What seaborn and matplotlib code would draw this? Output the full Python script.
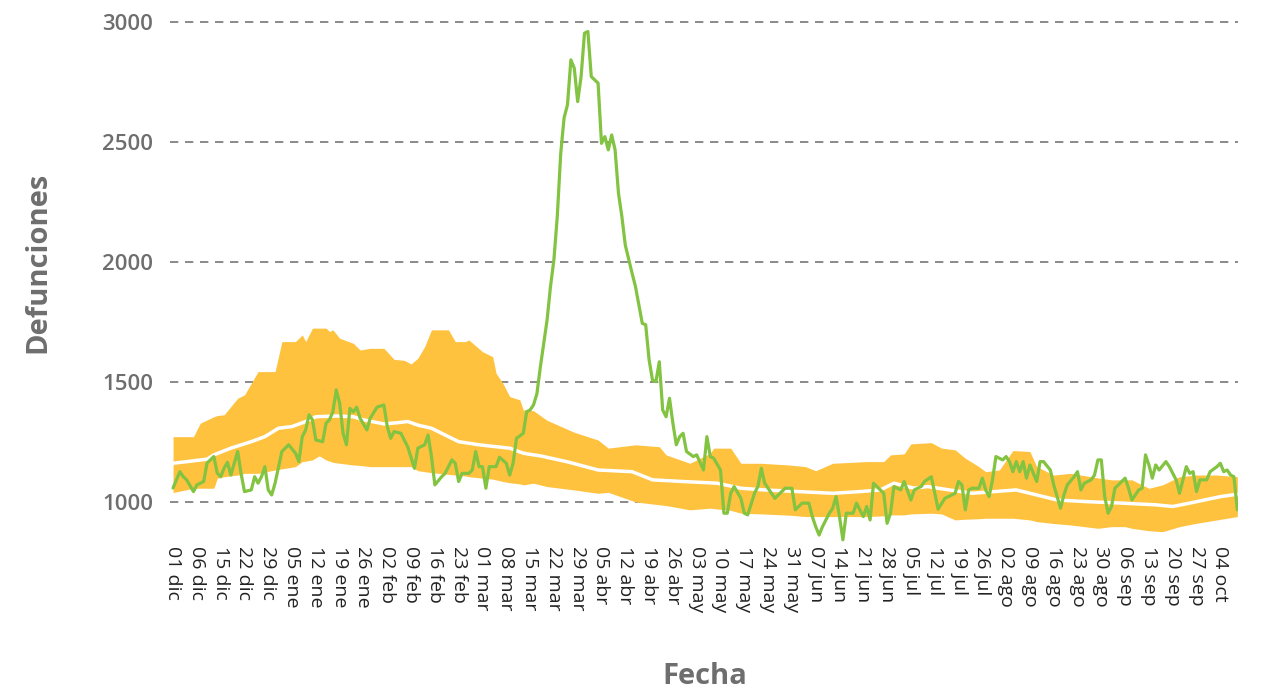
import numpy as np
import pandas as pd
import matplotlib
matplotlib.use("Agg")
import matplotlib.pyplot as plt
import seaborn as sns

# ---------------- data ----------------
start = pd.Timestamp("2019-12-01")

tick_labels = ["01 dic", "06 dic", "15 dic", "22 dic", "29 dic",
               "05 ene", "12 ene", "19 ene", "26 ene",
               "02 feb", "09 feb", "16 feb", "23 feb",
               "01 mar", "08 mar", "15 mar", "22 mar", "29 mar",
               "05 abr", "12 abr", "19 abr", "26 abr",
               "03 may", "10 may", "17 may", "24 may", "31 may",
               "07 jun", "14 jun", "21 jun", "28 jun",
               "05 jul", "12 jul", "19 jul", "26 jul",
               "02 ago", "09 ago", "16 ago", "23 ago", "30 ago",
               "06 sep", "13 sep", "20 sep", "27 sep", "04 oct"]

# observed deaths (day offset from 01 dic 2019, value)
obs_day = [0, 2, 3, 4, 6, 7, 9, 10, 12, 13, 14, 15, 16, 17, 19, 20, 21, 23, 24, 25,
           26, 27, 28, 29, 30, 32, 34, 36, 37, 38, 39, 40, 41, 42, 44, 45, 46, 47, 48, 49,
           50, 51, 52, 53, 54, 55, 57, 58, 60, 62, 63, 64, 65, 67, 68, 69, 71, 72, 74, 75,
           76, 77, 79, 80, 82, 83, 84, 85, 87, 88, 89, 90, 91, 92, 93, 95, 96, 98, 99, 100,
           101, 103, 104, 105, 106, 107, 108, 109, 110, 111, 112, 113, 114, 115, 116, 117, 118, 119, 120, 121,
           122, 123, 125, 126, 127, 128, 129, 130, 131, 132, 133, 135, 136, 138, 139, 140, 141, 142, 143, 144,
           145, 146, 147, 148, 149, 150, 151, 153, 154, 156, 157, 158, 159, 161, 162, 163, 164, 165, 167, 168,
           169, 171, 172, 173, 174, 176, 177, 179, 180, 182, 183, 185, 187, 188, 189, 190, 191, 193, 194, 195,
           196, 197, 198, 200, 201, 203, 204, 205, 206, 208, 209, 210, 211, 212, 214, 215, 217, 218, 220, 221,
           223, 225, 227, 228, 230, 231, 232, 233, 234, 235, 237, 238, 239, 240, 241, 242, 244, 245, 246, 247,
           248, 249, 250, 251, 252, 254, 255, 256, 258, 259, 260, 261, 262, 263, 265, 266, 267, 268, 270, 271,
           272, 273, 274, 275, 276, 277, 278, 280, 281, 282, 284, 285, 286, 287, 288, 289, 290, 292, 293, 295,
           296, 297, 298, 299, 300, 301, 302, 304, 305, 307, 308, 309, 310, 311, 312, 313]
obs_val = [1058, 1126, 1105, 1092, 1043, 1071, 1085, 1162, 1189, 1120, 1105, 1140, 1165, 1112, 1210, 1119, 1043, 1050, 1105, 1078,
           1105, 1147, 1050, 1029, 1078, 1210, 1238, 1203, 1168, 1272, 1300, 1363, 1342, 1258, 1251, 1328, 1342, 1376, 1467, 1411,
           1286, 1238, 1390, 1375, 1395, 1349, 1300, 1349, 1395, 1404, 1314, 1265, 1293, 1286, 1258, 1230, 1140, 1224, 1238, 1279,
           1189, 1071, 1105, 1119, 1175, 1161, 1085, 1119, 1119, 1133, 1210, 1147, 1147, 1057, 1147, 1147, 1186, 1161, 1112, 1161,
           1265, 1286, 1376, 1383, 1404, 1450, 1560, 1660, 1758, 1897, 2008, 2189, 2450, 2600, 2655, 2842, 2807, 2668, 2772, 2953,
           2960, 2772, 2745, 2494, 2522, 2467, 2529, 2467, 2286, 2189, 2070, 1953, 1897, 1744, 1738, 1592, 1508, 1501, 1584, 1383,
           1355, 1432, 1328, 1238, 1272, 1286, 1210, 1189, 1196, 1133, 1272, 1189, 1182, 1133, 953, 953, 1036, 1064, 1015, 953,
           946, 1036, 1064, 1140, 1078, 1036, 1015, 1043, 1057, 1057, 967, 995, 995, 939, 897, 862, 897, 953, 974, 1022,
           939, 842, 953, 953, 995, 939, 981, 925, 1078, 1050, 1036, 911, 953, 1064, 1050, 1085, 1008, 1050, 1064, 1085,
           1105, 970, 1015, 1022, 1036, 1085, 1071, 967, 1050, 1057, 1057, 1099, 1050, 1022, 1092, 1189, 1175, 1189, 1168, 1126,
           1168, 1126, 1168, 1099, 1154, 1085, 1168, 1168, 1133, 1071, 1022, 974, 1029, 1071, 1105, 1126, 1050, 1078, 1092, 1112,
           1175, 1175, 1022, 953, 981, 1057, 1071, 1099, 1057, 1008, 1050, 1057, 1196, 1154, 1099, 1154, 1133, 1168, 1147, 1092,
           1036, 1092, 1147, 1119, 1126, 1043, 1092, 1092, 1126, 1147, 1161, 1126, 1133, 1112, 1105, 967]

# expected (median) deaths
exp_day = [0, 10, 12, 17, 23, 27, 31, 35, 39, 42, 48, 53, 56, 62, 66, 69, 72, 76, 80, 84,
           90, 95, 99, 103, 106, 108, 116, 125, 135, 141, 150, 160, 167, 174, 184, 194, 202, 208, 212, 218,
           222, 225, 235, 248, 254, 260, 269, 279, 289, 294, 299, 308, 313]
exp_val = [1161, 1178, 1196, 1224, 1251, 1272, 1307, 1314, 1335, 1355, 1358, 1355, 1342, 1325, 1330, 1335, 1320, 1307, 1279, 1251,
           1238, 1230, 1224, 1203, 1196, 1192, 1167, 1133, 1126, 1092, 1085, 1078, 1057, 1050, 1043, 1036, 1043, 1050, 1078, 1057,
           1064, 1057, 1036, 1050, 1029, 1008, 1001, 995, 988, 981, 995, 1022, 1032]

# confidence band
band_day = [0, 6, 8, 12, 13, 15, 19, 21, 23, 25, 30, 31, 32, 36, 38, 39, 41, 43, 45, 46,
            47, 49, 53, 55, 58, 62, 65, 68, 70, 72, 74, 76, 81, 83, 86, 87, 91, 94, 95, 97,
            99, 102, 103, 106, 110, 118, 125, 128, 136, 143, 145, 152, 158, 159, 164, 167, 173, 181, 186, 189,
            194, 204, 209, 211, 215, 217, 223, 226, 230, 233, 237, 239, 243, 247, 252, 254, 259, 264, 272, 276,
            280, 282, 287, 291, 296, 301, 307, 313]
band_hi = [1272, 1272, 1328, 1355, 1360, 1363, 1432, 1446, 1494, 1543, 1543, 1605, 1668, 1668, 1696, 1668, 1724, 1724, 1724, 1710,
           1717, 1682, 1661, 1633, 1640, 1640, 1594, 1590, 1575, 1599, 1647, 1717, 1717, 1668, 1668, 1675, 1626, 1605, 1536, 1494,
           1439, 1425, 1383, 1380, 1340, 1290, 1258, 1224, 1238, 1230, 1196, 1161, 1203, 1224, 1224, 1161, 1161, 1154, 1147, 1130,
           1161, 1168, 1168, 1196, 1200, 1242, 1247, 1224, 1217, 1182, 1147, 1126, 1133, 1214, 1210, 1147, 1112, 1119, 1100, 1092,
           1092, 1092, 1057, 1071, 1105, 1112, 1112, 1105]
band_lo = [1039, 1057, 1057, 1057, 1099, 1105, 1112, 1119, 1119, 1119, 1133, 1135, 1138, 1147, 1168, 1170, 1175, 1192, 1175, 1170,
           1165, 1161, 1154, 1152, 1147, 1147, 1147, 1147, 1147, 1130, 1126, 1122, 1115, 1112, 1108, 1105, 1099, 1095, 1092, 1085,
           1080, 1075, 1071, 1078, 1064, 1050, 1036, 1040, 1000, 988, 985, 967, 974, 972, 965, 953, 950, 945, 939, 939,
           939, 939, 942, 946, 946, 950, 953, 950, 925, 928, 930, 932, 932, 932, 925, 918, 910, 904, 890, 897,
           897, 890, 880, 876, 897, 911, 925, 939]

# ---------------- plot ----------------
sns.set_theme(style="white")
plt.rcParams['font.family'] = ['Open Sans', 'DejaVu Sans']

to_date = lambda d: start + pd.to_timedelta(np.asarray(d), unit="D")

obs = pd.DataFrame({"fecha": to_date(obs_day), "defunciones": obs_val})
exp = pd.DataFrame({"fecha": to_date(exp_day), "defunciones": exp_val})
band = pd.DataFrame({"fecha": to_date(band_day), "hi": band_hi, "lo": band_lo})

W, H = 1265, 693
fig = plt.figure(figsize=(W / 100, H / 100), dpi=100)
ax = fig.add_axes([170 / W, 1 - 542 / H, (1238 - 170) / W, (542 - 20) / H])

ax.fill_between(band["fecha"], band["lo"], band["hi"], color="#FEC23E", lw=0, zorder=1)
sns.lineplot(data=exp, x="fecha", y="defunciones", color="white", lw=2.5, ax=ax, zorder=3)
sns.lineplot(data=obs, x="fecha", y="defunciones", color="#82C341", lw=2.3, ax=ax, zorder=4)

for v in [1000, 1500, 2000, 2500, 3000]:
    ax.axhline(v, color="#777777", lw=1.2, ls=(0, (5, 4)), zorder=0)

ax.set_ylim(833, 3008)
ax.set_xlim(start + pd.Timedelta(days=-0.9), start + pd.Timedelta(days=313.2))
ax.set_yticks([1000, 1500, 2000, 2500, 3000])
ax.set_yticklabels(["1000", "1500", "2000", "2500", "3000"], fontsize=16,
                   color="#6e6e6e", fontweight="semibold")
tick_pos = [start + pd.Timedelta(days=7 * i) for i in range(len(tick_labels))]
ax.set_xticks(tick_pos)
ax.set_xticklabels(tick_labels, rotation=-90, fontsize=14, color="#222222")
ax.tick_params(axis="both", length=0, pad=3)
ax.tick_params(axis="y", pad=12)
for s in ax.spines.values():
    s.set_visible(False)
ax.grid(False)

ax.set_xlabel("")
ax.set_ylabel("")
fig.text(38 / W, 1 - 262 / H, "Defunciones", rotation=90, ha="center", va="center",
         fontsize=21, fontweight="bold", color="#6e6e6e")
fig.text(705 / W, 1 - 677 / H, "Fecha", ha="center", va="center",
         fontsize=21, fontweight="bold", color="#6e6e6e")

fig.savefig("out.png", dpi=100, facecolor="white")
